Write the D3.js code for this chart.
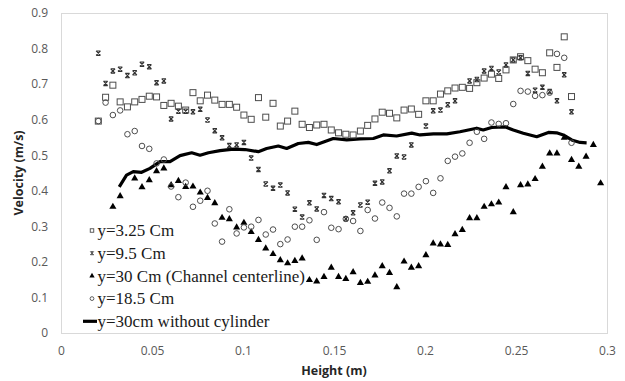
<!DOCTYPE html>
<html>
<head>
<meta charset="utf-8">
<script src="https://cdn.jsdelivr.net/npm/d3@7"></script>
<style>
  html, body { margin: 0; padding: 0; background: #fff; }
  svg { display: block; }
  .tick-label { font-family: "Open Sans", sans-serif; font-size: 12px; fill: #595959; }
  .axis-title { font-family: "Open Sans", sans-serif; font-size: 12.5px; font-weight: bold; fill: #262626; }
  .legend-text { font-family: "Liberation Serif", "DejaVu Serif", serif; font-size: 17px; fill: #1a1a1a; }
</style>
</head>
<body>
<div id="chart"></div>
<script>
// shared height grid (m) for the measured series
const heights = [
  0.0205, 0.0245, 0.0285, 0.0325, 0.0365, 0.0405, 0.0445, 0.0485, 0.0525, 0.0565,
  0.0605, 0.0645, 0.0685, 0.0725, 0.0765, 0.0805, 0.0845, 0.0885, 0.0925, 0.0965,
  0.1005, 0.1045, 0.1085, 0.1125, 0.1165, 0.1205, 0.1245, 0.1285, 0.1325, 0.1365,
  0.1405, 0.1445, 0.1485, 0.1525, 0.1565, 0.1605, 0.1645, 0.1685, 0.1725, 0.1765,
  0.1805, 0.1845, 0.1885, 0.1925, 0.1965, 0.2005, 0.2045, 0.2085, 0.2125, 0.2165,
  0.2205, 0.2245, 0.2285, 0.2325, 0.2365, 0.2405, 0.2445, 0.2485, 0.2525, 0.2565,
  0.2605, 0.2645, 0.2685, 0.2725, 0.2765, 0.2805, 0.2845, 0.2885, 0.2925, 0.2965
];

const y325 = [
  0.596, 0.663, 0.697, 0.650, 0.636, 0.650, 0.657, 0.666, 0.664, 0.640,
  0.646, 0.638, 0.627, 0.676, 0.653, 0.669, 0.655, 0.643, 0.643, 0.635,
  0.613, 0.601, 0.662, 0.607, 0.646, 0.582, 0.596, 0.624, 0.587, 0.578,
  0.585, 0.587, 0.571, 0.563, 0.559, 0.557, 0.568, 0.584, 0.602, 0.621,
  0.618, 0.605, 0.627, 0.630, 0.615, 0.653, 0.653, 0.672, 0.681, 0.689,
  0.691, 0.688, 0.704, 0.717, 0.728, 0.716, 0.740, 0.768, 0.777, 0.766,
  0.742, 0.732, 0.788, 0.747, 0.833, 0.665, null, null, null, null
];

const y95 = [
  0.787, 0.702, 0.737, 0.742, 0.724, 0.732, 0.756, 0.749, 0.704, 0.709,
  0.602, 0.624, 0.624, 0.622, 0.629, 0.599, 0.569, 0.549, 0.527, 0.529,
  0.536, 0.492, 0.460, 0.419, 0.407, 0.416, 0.394, 0.348, 0.326, 0.366,
  0.349, 0.387, 0.378, 0.369, 0.321, 0.338, 0.360, 0.368, 0.421, 0.425,
  0.456, 0.498, 0.495, 0.529, null, 0.582, 0.625, 0.627, 0.642, 0.653,
  null, 0.709, 0.713, 0.737, 0.744, 0.734, 0.754, 0.768, 0.774, 0.730,
  0.683, 0.691, 0.679, 0.653, 0.726, 0.622, null, null, null, null
];

const y30 = [
  null, null, 0.355, 0.385, null, 0.435, 0.410, 0.430, 0.455, 0.463,
  0.416, 0.428, 0.411, 0.412, 0.395, 0.380, 0.365, 0.324, 0.320, 0.297,
  0.310, 0.284, 0.262, 0.238, 0.222, 0.205, 0.196, 0.203, 0.210, 0.149,
  0.145, 0.158, 0.184, 0.158, 0.152, 0.171, 0.141, 0.144, 0.162, 0.188,
  0.169, 0.129, 0.201, 0.184, 0.188, 0.219, 0.252, 0.249, 0.248, 0.278,
  0.290, 0.323, 0.323, 0.355, 0.362, 0.367, 0.410, 0.340, 0.416, 0.418,
  0.433, 0.468, 0.505, 0.505, 0.549, 0.487, 0.468, 0.496, 0.529, 0.421
];

const y185 = [
  0.596, 0.648, 0.613, 0.626, 0.559, 0.568, 0.526, 0.518, 0.477, 0.488,
  0.412, 0.382, 0.423, 0.355, 0.372, 0.400, 0.308, 0.257, 0.348, 0.280,
  0.297, 0.299, 0.318, 0.277, 0.291, 0.250, 0.263, 0.299, 0.299, 0.317,
  0.262, 0.340, 0.296, 0.292, 0.321, 0.315, 0.287, 0.346, 0.322, 0.367,
  0.352, 0.328, 0.392, 0.392, 0.411, 0.427, 0.394, 0.435, 0.484, 0.496,
  0.505, 0.535, 0.566, 0.546, 0.592, 0.588, 0.590, 0.644, 0.681, 0.679,
  0.667, 0.669, 0.676, 0.785, 0.774, 0.535, null, null, null, null
];

// y=30cm without cylinder (continuous line)
const noCylX = [
  0.0320, 0.0360, 0.0397, 0.0443, 0.0489, 0.0544, 0.0599, 0.0654, 0.0718, 0.0764,
  0.0810, 0.0874, 0.0947, 0.1011, 0.1084, 0.1130, 0.1194, 0.1240, 0.1304, 0.1359,
  0.1405, 0.1496, 0.1570, 0.1643, 0.1716, 0.1771, 0.1844, 0.1927, 0.1973, 0.2046,
  0.2120, 0.2192, 0.2284, 0.2320, 0.2366, 0.2440, 0.2485, 0.2540, 0.2614, 0.2678,
  0.2723, 0.2760, 0.2806, 0.2852, 0.2888
];
const noCylY = [
  0.411, 0.444, 0.454, 0.452, 0.463, 0.482, 0.482, 0.499, 0.507, 0.500,
  0.507, 0.513, 0.517, 0.516, 0.510, 0.519, 0.526, 0.519, 0.533, 0.536,
  0.530, 0.547, 0.543, 0.546, 0.547, 0.557, 0.554, 0.562, 0.557, 0.560,
  0.560, 0.566, 0.576, 0.571, 0.578, 0.580, 0.571, 0.562, 0.552, 0.564,
  0.563, 0.557, 0.543, 0.536, 0.535
];

const xTicks = [0, 0.05, 0.1, 0.15, 0.2, 0.25, 0.3];
const yTicks = [0, 0.1, 0.2, 0.3, 0.4, 0.5, 0.6, 0.7, 0.8, 0.9];
const legendLabels = [
  "y=3.25 Cm",
  "y=9.5 Cm",
  "y=30 Cm (Channel centerline)",
  "y=18.5 Cm",
  "y=30cm without cylinder"
];

const W = 625, H = 381;
const margin = { top: 13, right: 18, bottom: 48, left: 61 };
const innerW = W - margin.left - margin.right;
const innerH = H - margin.top - margin.bottom;

const svg = d3.select("#chart").append("svg")
  .attr("width", W).attr("height", H);

const g = svg.append("g")
  .attr("transform", `translate(${margin.left},${margin.top})`);

const x = d3.scaleLinear().domain([0, 0.3]).range([0, innerW]);
const y = d3.scaleLinear().domain([0, 0.9]).range([innerH, 0]);

// plot frame
g.append("rect")
  .attr("x", 0.5).attr("y", 0.5)
  .attr("width", innerW).attr("height", innerH)
  .attr("fill", "none").attr("stroke", "#d9d9d9");

// axes (labels only, Excel style)
const xAxis = g.append("g")
  .attr("transform", `translate(0,${innerH})`)
  .call(d3.axisBottom(x).tickValues(xTicks).tickSize(0).tickPadding(13).tickFormat(d => d3.format("")(d)));
xAxis.select(".domain").remove();
xAxis.selectAll("text").attr("class", "tick-label").attr("fill", null);

const yAxis = g.append("g")
  .call(d3.axisLeft(y).tickValues(yTicks).tickSize(0).tickPadding(13).tickFormat(d => d3.format("")(d)));
yAxis.select(".domain").remove();
yAxis.selectAll("text").attr("class", "tick-label").attr("fill", null);

svg.append("text")
  .attr("class", "axis-title")
  .attr("text-anchor", "middle")
  .attr("x", margin.left + innerW / 2)
  .attr("y", 375)
  .text("Height (m)");

svg.append("text")
  .attr("class", "axis-title")
  .attr("text-anchor", "middle")
  .attr("transform", `translate(23,${margin.top + innerH / 2}) rotate(-90)`)
  .text("Velocity (m/s)");

// marker shapes
const markerSize = 6;
const xMark = s => {
  const h = s / 2;
  return `M${-h},${-h}L${h},${h}M${h},${-h}L${-h},${h}M${-h},${-h}L${h},${-h}M${-h},${h}L${h},${h}`;
};

const pts = vals => heights.map((h, i) => ({ x: h, y: vals[i] })).filter(d => d.y != null);

const line = d3.line().x((d, i) => x(noCylX[i])).y(d => y(d));

// the thick reference line
g.append("path")
  .datum(noCylY)
  .attr("fill", "none")
  .attr("stroke", "#000")
  .attr("stroke-width", 3.2)
  .attr("stroke-linejoin", "round")
  .attr("d", line);

// y=3.25 squares
g.append("g").selectAll("rect")
  .data(pts(y325)).join("rect")
  .attr("x", d => x(d.x) - markerSize / 2)
  .attr("y", d => y(d.y) - markerSize / 2)
  .attr("width", markerSize).attr("height", markerSize)
  .attr("fill", "none").attr("stroke", "#4d4d4d").attr("stroke-width", 1);

// y=9.5 x markers
g.append("g").selectAll("path")
  .data(pts(y95)).join("path")
  .attr("transform", d => `translate(${x(d.x)},${y(d.y)})`)
  .attr("d", xMark(4.4))
  .attr("fill", "none").attr("stroke", "#333").attr("stroke-width", 1.1);

// y=30 triangles
const tri = d3.symbol().type(d3.symbolTriangle).size(22);
g.append("g").selectAll("path")
  .data(pts(y30)).join("path")
  .attr("transform", d => `translate(${x(d.x)},${y(d.y)})`)
  .attr("d", tri)
  .attr("fill", "#000");

// y=18.5 circles
g.append("g").selectAll("circle")
  .data(pts(y185)).join("circle")
  .attr("cx", d => x(d.x)).attr("cy", d => y(d.y))
  .attr("r", 2.8)
  .attr("fill", "none").attr("stroke", "#4d4d4d").attr("stroke-width", 1);

// legend
const legend = svg.append("g").attr("transform", "translate(92,230.5)");
const rowH = 22.7;
legendLabels.forEach((label, i) => {
  const row = legend.append("g").attr("transform", `translate(0,${i * rowH})`);
  if (i === 0) {
    row.append("rect").attr("x", -1.75).attr("y", -1.75).attr("width", 3.5).attr("height", 3.5)
      .attr("fill", "none").attr("stroke", "#4d4d4d").attr("stroke-width", 0.9);
  } else if (i === 1) {
    row.append("path").attr("d", xMark(3)).attr("fill", "none").attr("stroke", "#333").attr("stroke-width", 0.9);
  } else if (i === 2) {
    row.append("path").attr("d", d3.symbol().type(d3.symbolTriangle).size(12)()).attr("fill", "#000");
  } else if (i === 3) {
    row.append("circle").attr("r", 1.9).attr("fill", "none").attr("stroke", "#4d4d4d").attr("stroke-width", 0.9);
  } else {
    row.append("line").attr("x1", -9).attr("x2", 5).attr("y1", 0).attr("y2", 0)
      .attr("stroke", "#000").attr("stroke-width", 3.2);
  }
  row.append("text")
    .attr("class", "legend-text")
    .attr("x", 5.5)
    .attr("dy", "0.33em")
    .text(label);
});
</script>
</body>
</html>
